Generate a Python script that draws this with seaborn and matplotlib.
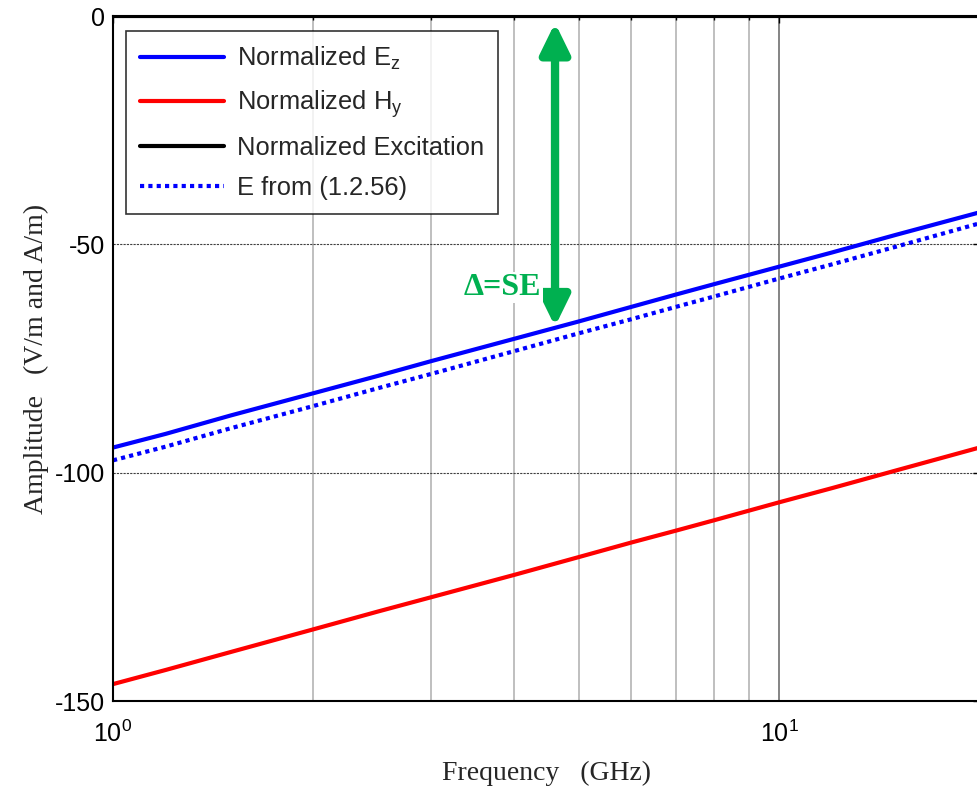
import numpy as np
import pandas as pd
import matplotlib
matplotlib.use("Agg")
import matplotlib.pyplot as plt
import seaborn as sns
from matplotlib.ticker import FixedLocator, NullFormatter

freq = [1, 1.2, 1.5, 2, 2.5, 3, 4, 5, 6, 7, 8, 10, 12, 15, 20]
ez = [-94.5, -91.5, -87.5, -82.6, -78.8, -75.6, -70.7, -66.9, -63.7, -61.0, -58.7, -54.9, -51.8, -47.9, -43.0]
hy = [-146.3, -143.2, -139.3, -134.3, -130.4, -127.3, -122.4, -118.5, -115.3, -112.7, -110.4, -106.5, -103.4, -99.5, -94.5]
exc = [0.0] * len(freq)
e_theory = [-97.3, -94.3, -90.3, -85.4, -81.5, -78.4, -73.4, -69.5, -66.4, -63.7, -61.4, -57.5, -54.4, -50.5, -45.4]

labels = ["Normalized E$_\\mathregular{z}$", "Normalized H$_\\mathregular{y}$",
          "Normalized Excitation", "E from (1.2.56)"]
yticks = [0, -50, -100, -150]

sns.set_theme(style="white")
plt.rcParams["font.family"] = ["Liberation Sans", "DejaVu Sans"]
plt.rcParams["mathtext.fontset"] = "custom"
plt.rcParams["mathtext.rm"] = "Liberation Sans"
plt.rcParams["mathtext.default"] = "regular"
plt.rcParams["axes.unicode_minus"] = False

fig = plt.figure(figsize=(9.77, 7.86), dpi=100)
ax = fig.add_axes([113 / 977, 1 - 701 / 786, 866.5 / 977, 685 / 786])

df = pd.DataFrame({"f": freq, "ez": ez, "hy": hy, "exc": exc, "et": e_theory})

sns.lineplot(data=df, x="f", y="ez", ax=ax, color="#0000ff", lw=3, label=labels[0])
sns.lineplot(data=df, x="f", y="hy", ax=ax, color="#ff0000", lw=3, label=labels[1])
sns.lineplot(data=df, x="f", y="exc", ax=ax, color="black", lw=3, label=labels[2])
sns.lineplot(data=df, x="f", y="et", ax=ax, color="#0000ff", lw=3, linestyle=(0, (1, 1)), label=labels[3])

ax.set_xscale("log")
ax.set_xlim(1, 20)
ax.set_ylim(-150, 0)
ax.set_yticks(yticks)
ax.set_yticklabels([str(t) for t in yticks])
ax.xaxis.set_major_locator(FixedLocator([1, 10]))
ax.xaxis.set_minor_locator(FixedLocator([2, 3, 4, 5, 6, 7, 8, 9]))
ax.xaxis.set_minor_formatter(NullFormatter())
ax.set_xticklabels(["$10^{0}$", "$10^{1}$"])

ax.tick_params(axis="both", which="both", direction="in", top=True, right=True,
               labelsize=18, colors="black", length=5, width=1)
ax.tick_params(axis="x", which="minor", length=3)
ax.tick_params(axis="x", which="major", pad=14)
ax.tick_params(axis="y", which="major", pad=6)

# grid
for xv in [2, 3, 4, 5, 6, 7, 8, 9]:
    ax.axvline(xv, color="#b4b4b4", lw=1.2, zorder=0)
ax.axvline(10, color="#707070", lw=1.2, zorder=0)
for yv in [-50, -100]:
    ax.axhline(yv, color="#404040", lw=0.8, ls=(0, (2, 1)), zorder=0)

for s in ax.spines.values():
    s.set_color("black")
    s.set_linewidth(1.5)

ax.set_xlabel("Frequency   (GHz)", family="Liberation Serif", fontsize=20, labelpad=10)
ax.set_ylabel("Amplitude   (V/m and A/m)", family="Liberation Serif", fontsize=20, labelpad=4)

leg = ax.legend(loc="upper left", bbox_to_anchor=(0.015, 0.978), borderaxespad=0,
                fontsize=18.4, frameon=True, fancybox=False, handlelength=3.3,
                labelspacing=0.62, borderpad=0.55, handletextpad=0.5)
leg.get_frame().set_edgecolor("black")
leg.get_frame().set_linewidth(1.2)

# SE arrow
green = "#00b050"
ax.annotate("", xy=(4.61, -68), xytext=(4.61, -1.5),
            arrowprops=dict(arrowstyle="<|-|>,head_length=0.45,head_width=0.22", color=green, lw=6,
                            mutation_scale=40, shrinkA=0, shrinkB=0))
ax.text(4.4, -59.5, "Δ=SE", color=green, family="Liberation Serif", fontweight="bold",
        fontsize=23, ha="right", va="center",
        bbox=dict(facecolor="white", edgecolor="none", pad=1))

fig.savefig("out.png", dpi=100)
